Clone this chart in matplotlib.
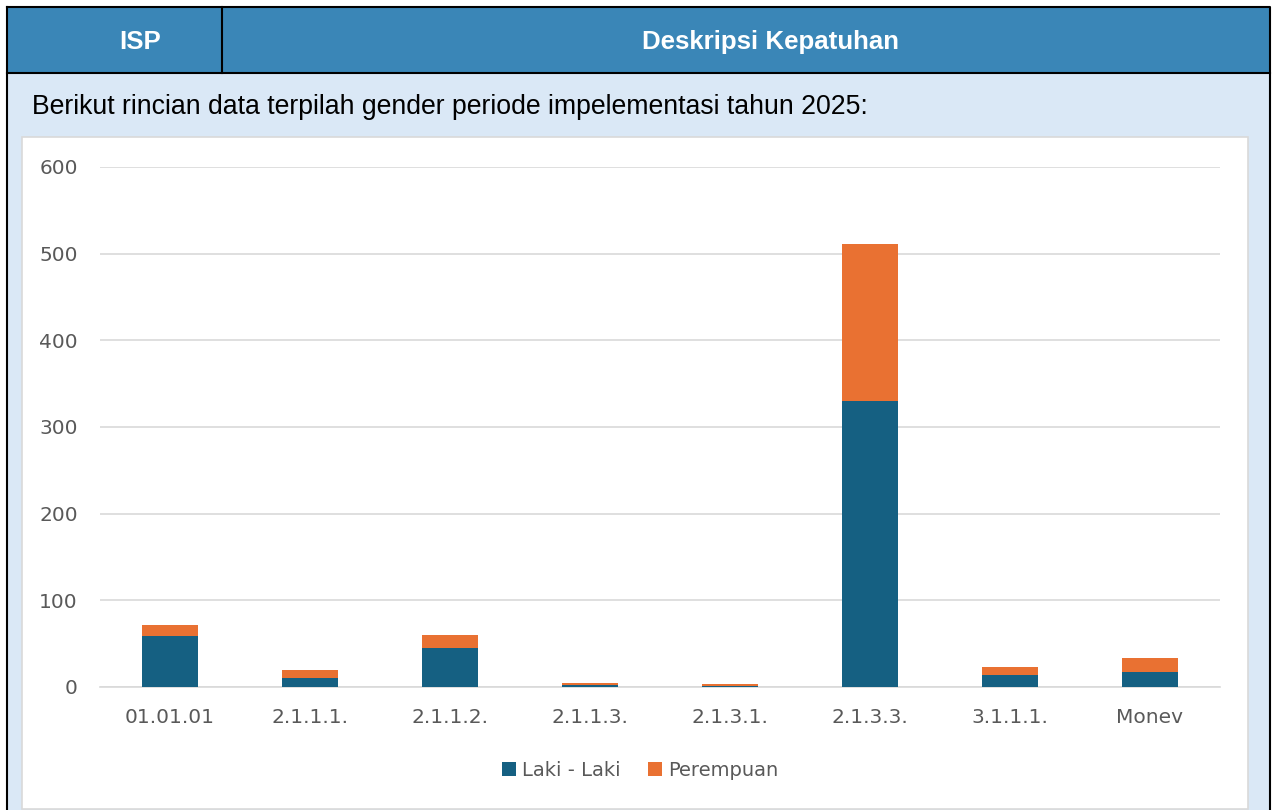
import matplotlib
matplotlib.use("Agg")
import matplotlib.pyplot as plt
from matplotlib.patches import Rectangle
import numpy as np

categories = ["01.01.01", "2.1.1.1.", "2.1.1.2.", "2.1.1.3.", "2.1.3.1.", "2.1.3.3.", "3.1.1.1.", "Monev"]
laki = [59, 10, 45, 2, 1, 330, 14, 17]
perempuan = [13, 10, 15, 3, 2, 181, 9, 16]
yticks = [0, 100, 200, 300, 400, 500, 600]

W, H = 1272, 810
fig = plt.figure(figsize=(W / 100, H / 100), dpi=100)
fig.patch.set_facecolor("white")

def px(x, y, w, h):
    return (x / W, 1 - (y + h) / H, w / W, h / H)

bg = fig.add_axes([0, 0, 1, 1])
bg.set_xlim(0, W)
bg.set_ylim(H, 0)
bg.axis("off")

# header row
bg.add_patch(Rectangle((7, 7), 1263, 66, facecolor="#3A86B7", edgecolor="none"))
# body
bg.add_patch(Rectangle((7, 73), 1263, 740, facecolor="#DAE8F6", edgecolor="none"))
# chart white box
bg.add_patch(Rectangle((22, 137), 1226, 672, facecolor="white", edgecolor="#D9D9D9", lw=1.2))
# borders
bg.plot([7, 1270, 1270, 7, 7], [7, 7, 812, 812, 7], color="black", lw=1.5)
bg.plot([7, 1270], [73, 73], color="black", lw=1.5)
bg.plot([222, 222], [7, 73], color="black", lw=1.5)

bg.text(140, 42, "ISP", color="white", fontsize=18.6, fontweight="bold",
        ha="center", va="center", family="Liberation Sans")
bg.text(771, 42, "Deskripsi Kepatuhan", color="white", fontsize=18.6, fontweight="bold",
        ha="center", va="center", family="Liberation Sans")
bg.text(32, 107, "Berikut rincian data terpilah gender periode impelementasi tahun 2025:",
        color="black", fontsize=19.2, ha="left", va="center", family="Liberation Sans")

ax = fig.add_axes(px(100, 167, 1120, 520))
ax.set_facecolor("white")
x = np.arange(len(categories))
c_blue = "#156082"
c_orange = "#E97132"
ax.bar(x, laki, width=0.4, color=c_blue, label="Laki - Laki", zorder=3)
ax.bar(x, perempuan, width=0.4, bottom=laki, color=c_orange, label="Perempuan", zorder=3)
ax.set_xlim(-0.5, len(categories) - 0.5)
ax.set_ylim(0, 600)
ax.set_yticks(yticks)
ax.set_yticklabels([str(v) for v in yticks])
ax.set_xticks(x)
ax.set_xticklabels(categories)
ax.grid(axis="y", color="#D9D9D9", lw=1.2, zorder=0)
for s in ["top", "right", "left"]:
    ax.spines[s].set_visible(False)
ax.spines["bottom"].set_color("#D9D9D9")
ax.spines["bottom"].set_linewidth(1.2)
ax.tick_params(axis="both", length=0, colors="#595959", labelsize=14.5)
ax.tick_params(axis="y", pad=16)
ax.tick_params(axis="x", pad=15)
for t in ax.get_xticklabels() + ax.get_yticklabels():
    t.set_family("DejaVu Sans")

leg = fig.legend(loc="center", bbox_to_anchor=(640 / W, 1 - 770 / H), ncol=2, frameon=False,
                 handlelength=0.75, handleheight=0.75, handletextpad=0.3, columnspacing=1.4,
                 prop={"family": "DejaVu Sans", "size": 14})
for t in leg.get_texts():
    t.set_color("#595959")

fig.savefig("out.png", dpi=100, facecolor="white")
